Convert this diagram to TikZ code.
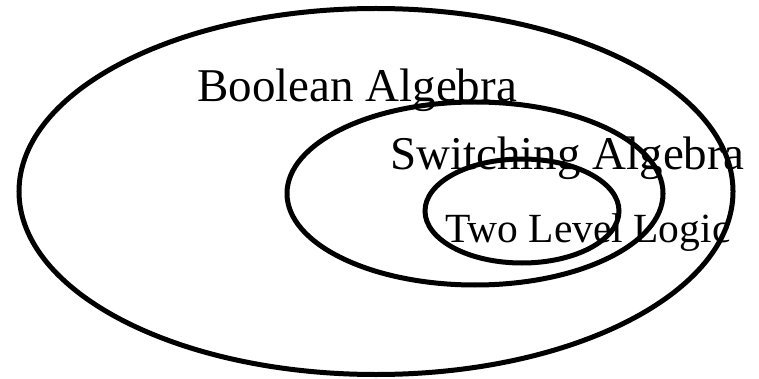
\documentclass[tikz,border=0pt]{standalone}
\usepackage{fontspec}
\setmainfont{Liberation Serif}
\usetikzlibrary{shapes.geometric}

\begin{document}
\begin{tikzpicture}[
  x=1pt, y=-1pt,
  set/.style={ellipse, draw=black, line width=5pt, inner sep=0pt},
  setlbl/.style={anchor=base west, inner sep=0pt, font=\fontsize{47}{50}\selectfont},
  sublbl/.style={anchor=base west, inner sep=0pt, font=\fontsize{41.5}{44}\selectfont},
]
\useasboundingbox (0,0) rectangle (759,379);

\node[set, minimum width=714pt, minimum height=366pt] (boolean)   at (376,191.5) {};
\node[set, minimum width=376pt, minimum height=183pt] (switching) at (475,193.5) {};
\node[set, minimum width=194pt, minimum height=104pt] (twolevel)  at (522,211)   {};

\node[setlbl] (booleanlbl)   at (197,102) {Boolean Algebra};
\node[setlbl] (switchinglbl) at (390,170) {Switching Algebra};
\node[sublbl] (twolevellbl)  at (445,242) {Two Level Logic};

\end{tikzpicture}
\end{document}
